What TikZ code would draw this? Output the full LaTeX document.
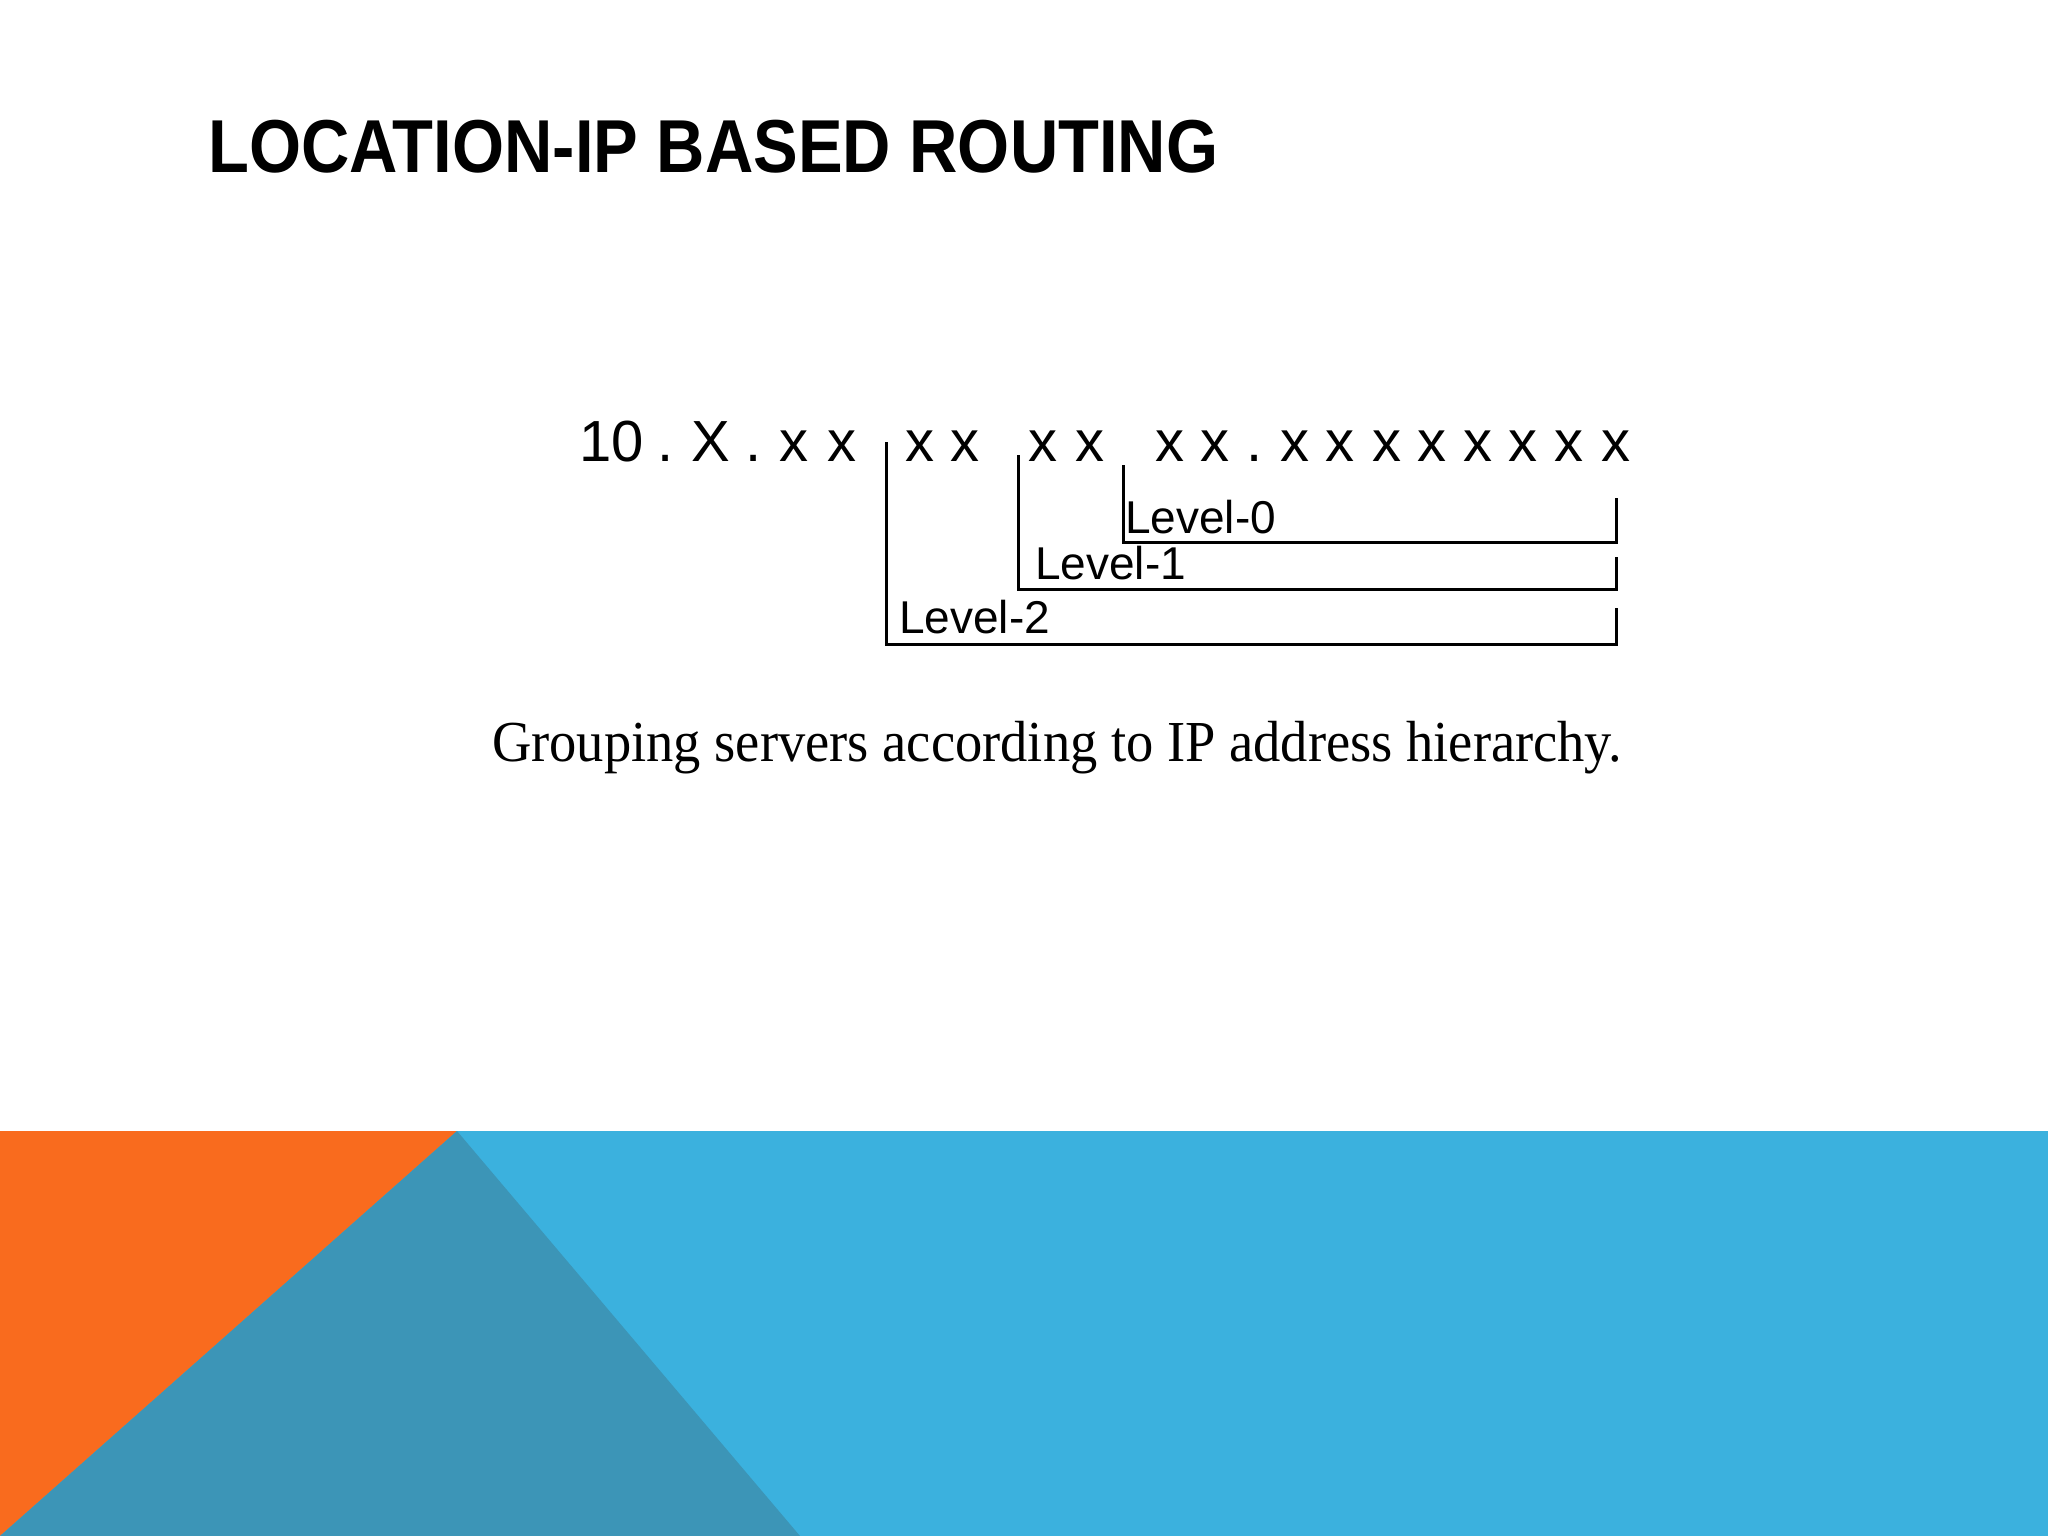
\documentclass[tikz,border=0pt]{standalone}
\usepackage{fontspec}
\usepackage{graphicx}
\setmainfont{Liberation Serif}
\newfontfamily\arialfont{Liberation Sans}
\definecolor{bandblue}{RGB}{59,177,222}
\definecolor{bandorange}{RGB}{249,107,30}
\definecolor{bandteal}{RGB}{60,149,183}
\tikzset{
  ipchar/.style={anchor=base, inner sep=0pt, font=\arialfont\fontsize{58}{60}\selectfont},
  levellabel/.style={anchor=base west, inner sep=0pt, font=\arialfont\fontsize{46}{50}\selectfont},
  bracket/.style={line width=3pt, black, line join=miter},
}
\begin{document}
\begin{tikzpicture}[x=1pt,y=-1pt]
\useasboundingbox (0,0) rectangle (2048,1536);
\fill[white] (0,0) rectangle (2048,1536);
% bottom band
\fill[bandblue] (0,1131) rectangle (2048,1536);
\fill[bandorange] (0,1131) -- (457,1131) -- (0,1536) -- cycle;
\fill[bandteal] (457,1131) -- (800,1536) -- (0,1536) -- cycle;
% title
\node[anchor=base west, inner sep=0pt] (title) at (208,173)
  {\resizebox{1010pt}{\height}{\arialfont\fontsize{75}{80}\selectfont\bfseries LOCATION-IP BASED ROUTING}};
% address characters
\foreach \c/\xx [count=\i] in {10/612, ./666, X/711, ./754, x/794, x/842, x/920, x/965,
  x/1043, x/1090, x/1170, x/1215, ./1255, x/1295, x/1340, x/1387, x/1432, x/1478,
  x/1523, x/1569, x/1616}
  \node[ipchar] (c\i) at (\xx,461) {\c};
% bracket coordinates
\coordinate (l2top) at (886,442);
\coordinate (l2end) at (1616,608);
\coordinate (l1top) at (1018,455);
\coordinate (l1end) at (1616,557);
\coordinate (l0top) at (1123,465);
\coordinate (l0end) at (1616,498);
\draw[bracket] (l2top) |- (l2end |- 0,644) -- (l2end);
\draw[bracket] (l1top) |- (l1end |- 0,589) -- (l1end);
\draw[bracket] (l0top) |- (l0end |- 0,542) -- (l0end);
% level labels
\node[levellabel] (lv0) at (1125,533) {Level-0};
\node[levellabel] (lv1) at (1035,579) {Level-1};
\node[levellabel] (lv2) at (899,633) {Level-2};
% caption
\node[anchor=base west, inner sep=0pt] (caption) at (492,761)
  {\resizebox{1130pt}{\height}{\fontsize{58}{60}\selectfont Grouping servers according to IP address hierarchy.}};
\end{tikzpicture}
\end{document}
